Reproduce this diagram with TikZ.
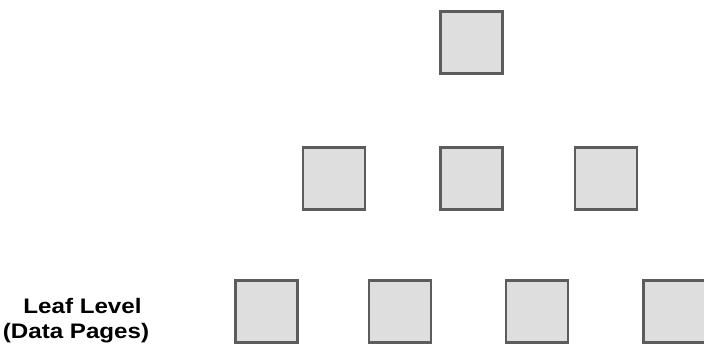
\documentclass[tikz,border=0pt]{standalone}
\usepackage{fontspec}
\setmainfont{Liberation Sans}
\definecolor{pagefill}{HTML}{DEDEDE}
\definecolor{pageedge}{HTML}{5C5C5C}
\begin{document}
\begin{tikzpicture}[x=1pt,y=-1pt,
  page/.style={draw=pageedge,fill=pagefill,line width=2.5pt,minimum width=62pt,minimum height=62pt,inner sep=0pt},
  lbl/.style={font=\bfseries\fontsize{21}{25}\selectfont,xscale=1.15,inner sep=0pt,anchor=base}]
\useasboundingbox (0,0) rectangle (704,345);
\clip (0,0) rectangle (704,345);
\node[page] (r) at (471.5,42.5) {};
\node[page] (m1) at (334,178.5) {};
\node[page] (m2) at (471.5,178.5) {};
\node[page] (m3) at (606,178.5) {};
\node[page] (l1) at (266.5,311.5) {};
\node[page] (l2) at (400,311.5) {};
\node[page] (l3) at (537,311.5) {};
\node[page] (l4) at (674.5,311.5) {};
\node[lbl] (t1) at (82.5,313) {Leaf Level};
\node[lbl] (t2) at (76,338) {(Data Pages)};
\end{tikzpicture}
\end{document}
